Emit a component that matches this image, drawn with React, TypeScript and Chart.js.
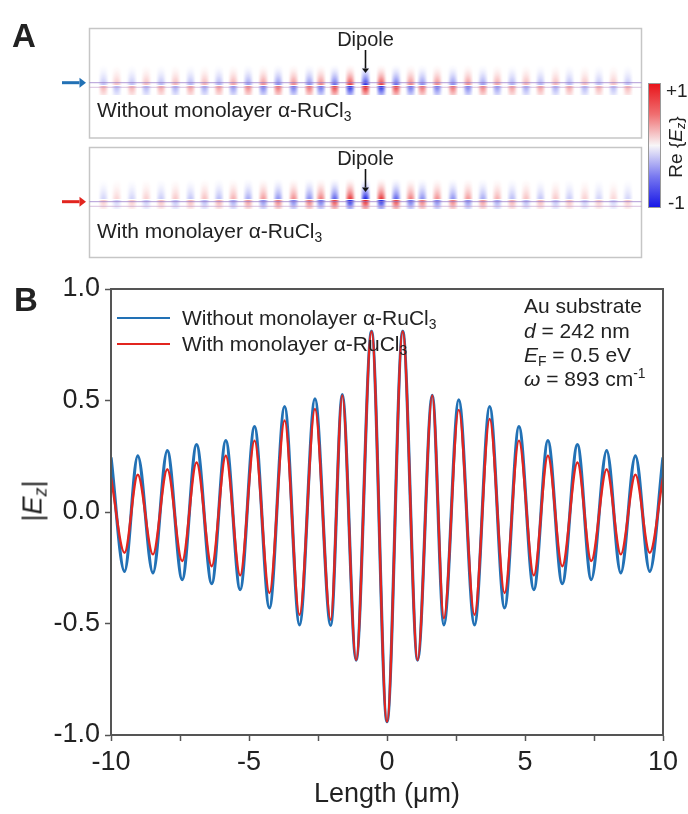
import React, { useEffect, useRef } from 'react';
import { Chart, registerables } from 'chart.js';

Chart.register(...registerables);

// ---------------- data ----------------
// positions (µm) of the successive maxima / minima of |Ez| along the interface
const lengthUm = [
  -10, -9.51, -9.03, -8.48, -7.96, -7.42, -6.9, -6.35, -5.84, -5.32, -4.8, -4.26, -3.71,
  -3.17, -2.61, -2.04, -1.62, -1.12, -0.56, 0, 0.57, 1.11, 1.64, 2.06, 2.6, 3.17, 3.72,
  4.26, 4.78, 5.32, 5.83, 6.35, 6.9, 7.4, 7.96, 8.47, 9.0, 9.52, 10,
];
const ezWithout = [
  0.245, -0.266, 0.252, -0.273, 0.275, -0.303, 0.302, -0.321, 0.32, -0.348, 0.383, -0.43, 0.473,
  -0.506, 0.507, -0.509, 0.526, -0.664, 0.81, -0.94, 0.81, -0.664, 0.523, -0.506, 0.503, -0.506, 0.473,
  -0.43, 0.383, -0.348, 0.32, -0.321, 0.302, -0.303, 0.275, -0.273, 0.252, -0.266, 0.245,
];
const ezWith = [
  0.155, -0.183, 0.167, -0.19, 0.192, -0.22, 0.222, -0.243, 0.252, -0.284, 0.32, -0.363, 0.41,
  -0.461, 0.462, -0.483, 0.523, -0.664, 0.81, -0.94, 0.81, -0.664, 0.523, -0.476, 0.458, -0.461, 0.417,
  -0.363, 0.32, -0.284, 0.252, -0.243, 0.222, -0.22, 0.192, -0.19, 0.167, -0.183, 0.155,
];
const xTickValues = [-10, -5, 0, 5, 10];
const xTickLabels = ['-10', '-5', '0', '5', '10'];
const yTickValues = [-1, -0.5, 0, 0.5, 1];
const yTickLabels = ['-1.0', '-0.5', '0.0', '0.5', '1.0'];
const seriesNames = ['Without monolayer α-RuCl3', 'With monolayer α-RuCl3'];
const xAxisTitle = 'Length (μm)';

// ---------------- styles ----------------
const FONT = "'Liberation Sans', Arial, Helvetica, sans-serif";
const BLUE = '#2271b5';
const RED = '#e2251f';
const AXIS = '#555555';
const TEXT = '#222222';

// panel A layout (pixels)
const A_LEFT = 90;
const A_RIGHT = 641;
const STRIP_Y = 82.7; // upper interface line of the top map
const STRIP_GAP = 4.6;
const PANEL_SHIFT = 119; // offset of the second map
const BOXES = [
  { x: 89.5, y: 28.5, w: 552, h: 109.5 },
  { x: 89.5, y: 147.5, w: 552, h: 110 },
];

// ---------------- helpers ----------------
function makeBlob(kind: 'up' | 'down', v: number): HTMLCanvasElement {
  const red = kind === 'up' ? v > 0 : v < 0;
  const amp = Math.min(1, Math.abs(v) * (kind === 'up' ? 1.1 : 1.3));
  const w = 11;
  const h = kind === 'up' ? 22 : 9;
  const c = document.createElement('canvas');
  c.width = w;
  c.height = h;
  const g = c.getContext('2d')!;
  const img = g.createImageData(w, h);
  const rgb = red ? [228, 24, 28] : [28, 36, 228];
  for (let j = 0; j < h; j++) {
    for (let i = 0; i < w; i++) {
      const u = (i + 0.5) / w;
      const t = (j + 0.5) / h;
      const hx = Math.pow(Math.sin(Math.PI * u), 1.3);
      const vy = kind === 'up' ? Math.pow(t, 1.8) : Math.pow(1 - 0.6 * t, 1.2);
      const a = Math.min(1, amp * hx * vy);
      const k = (j * w + i) * 4;
      img.data[k] = rgb[0];
      img.data[k + 1] = rgb[1];
      img.data[k + 2] = rgb[2];
      img.data[k + 3] = Math.round(255 * a);
    }
  }
  g.putImageData(img, 0, 0);
  return c;
}

function blobDataset(values: number[], kind: 'up' | 'down', shift: number) {
  const idx = values.map((_, i) => i).filter((i) => i > 0 && i < values.length - 1);
  const yPos = kind === 'up' ? STRIP_Y - 11 + shift : STRIP_Y + 1.5 + 4.5 + shift;
  return {
    type: 'scatter' as const,
    data: idx.map((i) => ({ x: lengthUm[i], y: yPos })),
    pointStyle: idx.map((i) => makeBlob(kind, values[i])),
    pointRadius: 5,
    pointHoverRadius: 5,
    clip: false as const,
  };
}

function arrow(ctx: CanvasRenderingContext2D, x0: number, y0: number, x1: number, y1: number, color: string, lw: number, head: number) {
  const ang = Math.atan2(y1 - y0, x1 - x0);
  const bx = x1 - Math.cos(ang) * head * 1.3;
  const by = y1 - Math.sin(ang) * head * 1.3;
  ctx.save();
  ctx.strokeStyle = color;
  ctx.fillStyle = color;
  ctx.lineWidth = lw;
  ctx.beginPath();
  ctx.moveTo(x0, y0);
  ctx.lineTo(bx, by);
  ctx.stroke();
  ctx.beginPath();
  ctx.moveTo(x1, y1);
  ctx.lineTo(bx + Math.sin(ang) * head, by - Math.cos(ang) * head);
  ctx.lineTo(bx - Math.sin(ang) * head, by + Math.cos(ang) * head);
  ctx.closePath();
  ctx.fill();
  ctx.restore();
}

const panelAPlugin = {
  id: 'panelA',
  beforeDatasetsDraw(chart: any) {
    const ctx = chart.ctx as CanvasRenderingContext2D;
    ctx.save();
    ctx.strokeStyle = '#c6c6c6';
    ctx.lineWidth = 1.5;
    for (const b of BOXES) ctx.strokeRect(b.x, b.y, b.w, b.h);
    ctx.restore();
  },
  afterDatasetsDraw(chart: any) {
    const ctx = chart.ctx as CanvasRenderingContext2D;
    const xs = chart.scales.x;
    const xd = xs.getPixelForValue(0);
    [0, PANEL_SHIFT].forEach((s, k) => {
      ctx.save();
      ctx.lineWidth = 1;
      ctx.strokeStyle = 'rgba(150,120,200,0.75)';
      ctx.beginPath();
      ctx.moveTo(BOXES[k].x, STRIP_Y + s);
      ctx.lineTo(BOXES[k].x + BOXES[k].w, STRIP_Y + s);
      ctx.stroke();
      ctx.strokeStyle = 'rgba(190,150,200,0.6)';
      ctx.beginPath();
      ctx.moveTo(BOXES[k].x, STRIP_Y + STRIP_GAP + s);
      ctx.lineTo(BOXES[k].x + BOXES[k].w, STRIP_Y + STRIP_GAP + s);
      ctx.stroke();
      ctx.restore();
      // dipole arrow
      arrow(ctx, xd, 50 + s, xd, 73 + s, '#111', 1.6, 3.5);
      // side arrows
      arrow(ctx, 62, STRIP_Y + s, 86, STRIP_Y + s, k === 0 ? BLUE : RED, 3, 5);
    });
    // colour bar
    const cx = 648, cy = 83, cw = 13, ch = 125;
    const grad = ctx.createLinearGradient(0, cy, 0, cy + ch);
    grad.addColorStop(0, 'rgb(232,18,24)');
    grad.addColorStop(0.25, 'rgb(240,110,112)');
    grad.addColorStop(0.5, 'rgb(248,246,248)');
    grad.addColorStop(0.75, 'rgb(120,120,240)');
    grad.addColorStop(1, 'rgb(20,20,230)');
    ctx.save();
    ctx.fillStyle = grad;
    ctx.fillRect(cx, cy, cw, ch);
    ctx.strokeStyle = '#9a9a9a';
    ctx.lineWidth = 1;
    ctx.strokeRect(cx + 0.5, cy + 0.5, cw - 1, ch - 1);
    ctx.restore();
  },
};

const framePlugin = {
  id: 'frame',
  afterDatasetsDraw(chart: any) {
    const { ctx, chartArea } = chart;
    ctx.save();
    ctx.strokeStyle = AXIS;
    ctx.lineWidth = 2;
    ctx.strokeRect(chartArea.left, chartArea.top, chartArea.right - chartArea.left, chartArea.bottom - chartArea.top);
    ctx.restore();
  },
};

function Txt(props: { x: number; y: number; size: number; anchor?: 'start' | 'middle'; bold?: boolean; children: any }) {
  const { x, y, size, anchor, bold, children } = props;
  return (
    <div
      style={{
        position: 'absolute',
        left: x,
        top: y - size * 0.53,
        fontSize: size,
        lineHeight: `${size}px`,
        whiteSpace: 'nowrap',
        fontWeight: bold ? 'bold' : 'normal',
        transform: anchor === 'middle' ? 'translateX(-50%)' : undefined,
      }}
    >
      {children}
    </div>
  );
}

function Rot(props: { x: number; y: number; size: number; children: any }) {
  const { x, y, size, children } = props;
  return (
    <div
      style={{
        position: 'absolute',
        left: x,
        top: y,
        fontSize: size,
        lineHeight: `${size}px`,
        whiteSpace: 'nowrap',
        transform: 'translate(-50%, -50%) rotate(-90deg)',
      }}
    >
      {children}
    </div>
  );
}

const subStyle: React.CSSProperties = { fontSize: '0.66em', verticalAlign: '-0.3em', lineHeight: 0 };
const supStyle: React.CSSProperties = { fontSize: '0.66em', verticalAlign: '0.55em', lineHeight: 0 };

function RuCl(props: { name: string }) {
  const base = props.name.slice(0, -1);
  return (
    <span>
      {base}
      <span style={subStyle}>3</span>
    </span>
  );
}

export default function App() {
  const aRef = useRef<HTMLCanvasElement>(null);
  const bRef = useRef<HTMLCanvasElement>(null);

  useEffect(() => {
    Chart.defaults.font.family = FONT;

    const chartA = new Chart(aRef.current!, {
      type: 'scatter',
      data: {
        datasets: [
          blobDataset(ezWithout, 'up', 0),
          blobDataset(ezWithout, 'down', 0),
          blobDataset(ezWith, 'up', PANEL_SHIFT),
          blobDataset(ezWith, 'down', PANEL_SHIFT),
        ] as any,
      },
      options: {
        animation: false,
        responsive: false,
        events: [],
        layout: { padding: { left: A_LEFT, right: 688 - A_RIGHT, top: 0, bottom: 0 } },
        plugins: { legend: { display: false }, tooltip: { enabled: false } },
        scales: {
          x: { type: 'linear', min: -10, max: 10, display: false },
          y: { type: 'linear', min: 0, max: 265, reverse: true, display: false },
        },
      },
      plugins: [panelAPlugin],
    });

    const tickFont = { family: FONT, size: 27 };
    const chartB = new Chart(bRef.current!, {
      type: 'line',
      data: {
        datasets: [
          {
            label: seriesNames[1],
            data: lengthUm.map((x, i) => ({ x, y: ezWith[i] })),
            borderColor: RED,
            borderWidth: 2.4,
            pointRadius: 0,
            cubicInterpolationMode: 'monotone',
            order: 0,
          },
          {
            label: seriesNames[0],
            data: lengthUm.map((x, i) => ({ x, y: ezWithout[i] })),
            borderColor: BLUE,
            borderWidth: 3.2,
            pointRadius: 0,
            cubicInterpolationMode: 'monotone',
            order: 1,
          },
        ],
      },
      options: {
        animation: false,
        responsive: false,
        events: [],
        layout: { padding: { top: 24, right: 25, left: 0, bottom: 0 } },
        plugins: { legend: { display: false }, tooltip: { enabled: false } },
        scales: {
          x: {
            type: 'linear',
            min: -10,
            max: 10,
            ticks: {
              stepSize: 2.5,
              autoSkip: false,
              maxRotation: 0,
              padding: 5,
              color: TEXT,
              font: tickFont,
              callback: (v: any) => {
                const i = xTickValues.indexOf(Number(v));
                return i >= 0 ? xTickLabels[i] : '';
              },
            },
            grid: { drawOnChartArea: false, drawTicks: true, tickLength: 6, tickWidth: 1.5, tickColor: AXIS },
            border: { display: true, color: AXIS, width: 2 },
            title: { display: true, text: xAxisTitle, color: TEXT, font: { family: FONT, size: 27 }, padding: { top: 0, bottom: 3 } },
            afterFit: (s: any) => {
              s.height = 79;
            },
          },
          y: {
            type: 'linear',
            min: -1,
            max: 1,
            ticks: {
              stepSize: 0.5,
              padding: 5,
              color: TEXT,
              font: tickFont,
              callback: (v: any) => {
                const i = yTickValues.indexOf(Number(v));
                return i >= 0 ? yTickLabels[i] : '';
              },
            },
            grid: { drawOnChartArea: false, drawTicks: true, tickLength: 6, tickWidth: 1.5, tickColor: AXIS },
            border: { display: true, color: AXIS, width: 2 },
            afterFit: (s: any) => {
              s.width = 111;
            },
          },
        },
      },
      plugins: [framePlugin],
    });

    return () => {
      chartA.destroy();
      chartB.destroy();
    };
  }, []);

  return (
    <div
      style={{
        position: 'absolute',
        left: 0,
        top: 0,
        width: 688,
        height: 814,
        background: '#ffffff',
        fontFamily: FONT,
        color: TEXT,
        overflow: 'hidden',
      }}
    >
      <canvas ref={aRef} width={688} height={265} style={{ position: 'absolute', left: 0, top: 0, width: 688, height: 265 }} />
      <canvas ref={bRef} width={688} height={549} style={{ position: 'absolute', left: 0, top: 265, width: 688, height: 549 }} />

      {/* Panel A labels */}
      <Txt x={12} y={36} size={33} bold>
        A
      </Txt>
      <Txt x={365.5} y={40} size={20} anchor="middle">
        Dipole
      </Txt>
      <Txt x={365.5} y={40 + PANEL_SHIFT} size={20} anchor="middle">
        Dipole
      </Txt>
      <Txt x={97} y={110} size={21}>
        <RuCl name={seriesNames[0]} />
      </Txt>
      <Txt x={97} y={231} size={21}>
        <RuCl name={seriesNames[1]} />
      </Txt>
      <Txt x={666} y={91} size={19}>
        +1
      </Txt>
      <Txt x={668} y={203} size={19}>
        -1
      </Txt>
      <Rot x={675} y={147} size={19}>
        Re {'{'}
        <i>E</i>
        <span style={subStyle}>
          <i>z</i>
        </span>
        {'}'}
      </Rot>

      {/* Panel B labels */}
      <Txt x={14} y={300} size={33} bold>
        B
      </Txt>
      <Rot x={33} y={501} size={27}>
        |<i>E</i>
        <span style={subStyle}>
          <i>z</i>
        </span>
        |
      </Rot>

      {/* legend */}
      <div style={{ position: 'absolute', left: 117, top: 318 - 1.25, width: 53, height: 2.5, background: BLUE }} />
      <Txt x={182} y={318} size={21}>
        <RuCl name={seriesNames[0]} />
      </Txt>
      <div style={{ position: 'absolute', left: 117, top: 344 - 1.25, width: 53, height: 2.5, background: RED }} />
      <Txt x={182} y={344} size={21}>
        <RuCl name={seriesNames[1]} />
      </Txt>

      {/* parameters */}
      <Txt x={524} y={306} size={21}>
        Au substrate
      </Txt>
      <Txt x={524} y={331} size={21}>
        <i>d</i> = 242 nm
      </Txt>
      <Txt x={524} y={355} size={21}>
        <i>E</i>
        <span style={subStyle}>F</span> = 0.5 eV
      </Txt>
      <Txt x={524} y={379} size={21}>
        <i>ω</i> = 893 cm<span style={supStyle}>-1</span>
      </Txt>
    </div>
  );
}
